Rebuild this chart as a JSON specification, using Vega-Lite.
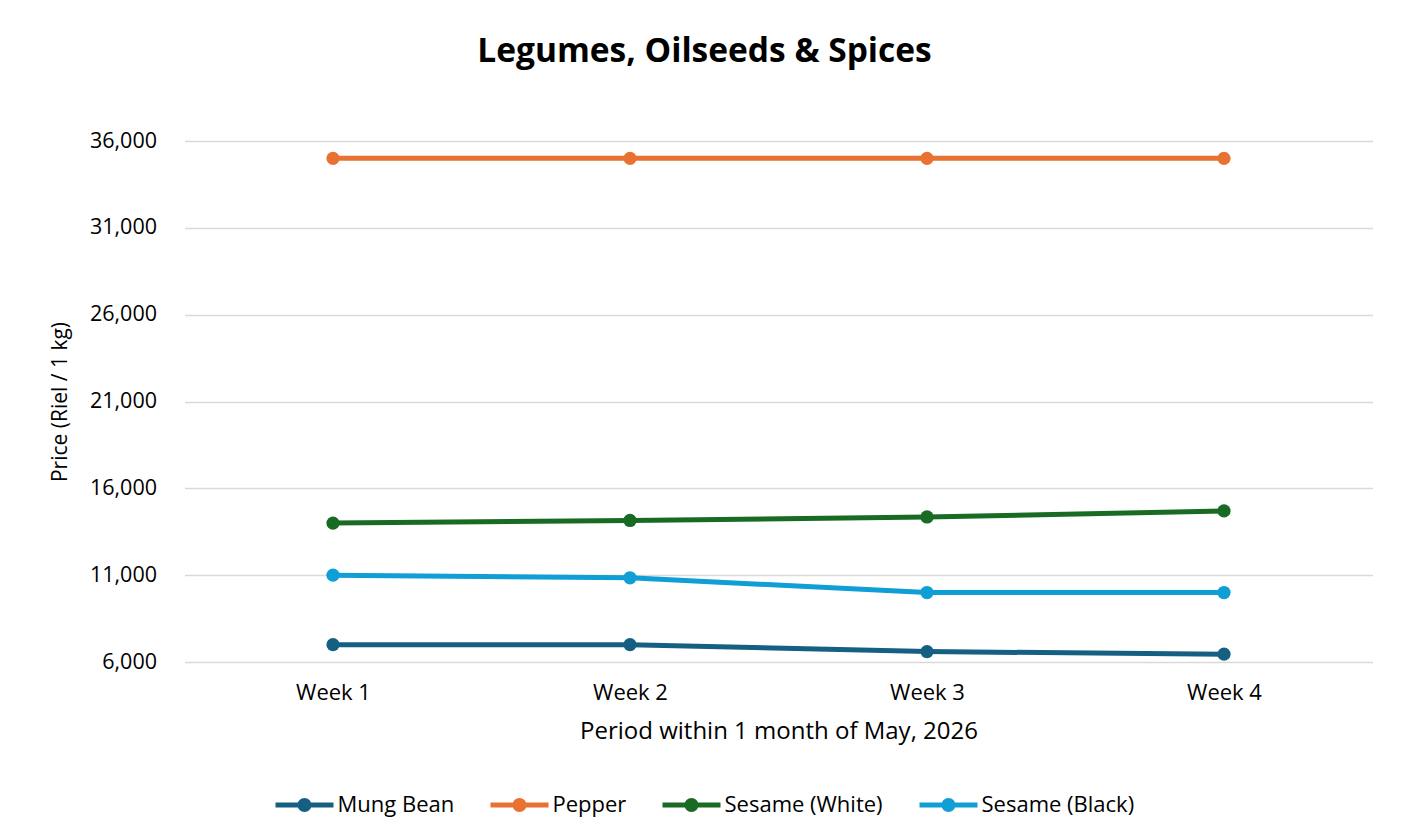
{
  "$schema": "https://vega.github.io/schema/vega-lite/v6.json",
  "width": 1188,
  "height": 521,
  "autosize": {"type": "none"},
  "padding": {"left": 184.5, "top": 141, "right": 29.5, "bottom": 176},
  "background": "white",
  "title": {
    "text": "Legumes, Oilseeds & Spices",
    "fontSize": 33.5,
    "fontWeight": "bold",
    "font": "Open Sans",
    "color": "#000000",
    "anchor": "middle",
    "dx": -74,
    "offset": 61
  },
  "data": {
    "values": [
      {"week": "Week 1", "item": "Mung Bean", "price": 7000},
      {"week": "Week 2", "item": "Mung Bean", "price": 7000},
      {"week": "Week 3", "item": "Mung Bean", "price": 6600},
      {"week": "Week 4", "item": "Mung Bean", "price": 6450},
      {"week": "Week 1", "item": "Pepper", "price": 35000},
      {"week": "Week 2", "item": "Pepper", "price": 35000},
      {"week": "Week 3", "item": "Pepper", "price": 35000},
      {"week": "Week 4", "item": "Pepper", "price": 35000},
      {"week": "Week 1", "item": "Sesame (White)", "price": 14000},
      {"week": "Week 2", "item": "Sesame (White)", "price": 14150},
      {"week": "Week 3", "item": "Sesame (White)", "price": 14350},
      {"week": "Week 4", "item": "Sesame (White)", "price": 14700},
      {"week": "Week 1", "item": "Sesame (Black)", "price": 11000},
      {"week": "Week 2", "item": "Sesame (Black)", "price": 10850},
      {"week": "Week 3", "item": "Sesame (Black)", "price": 10000},
      {"week": "Week 4", "item": "Sesame (Black)", "price": 10000}
    ]
  },
  "encoding": {
    "x": {
      "field": "week",
      "type": "ordinal",
      "scale": {"type": "point", "padding": 0.5},
      "axis": {
        "title": "Period within 1 month of May, 2026",
        "labelAngle": 0,
        "labelFontSize": 22,
        "labelPadding": 20,
        "titleFontSize": 24,
        "titleFontWeight": "normal",
        "titlePadding": 16,
        "ticks": false,
        "domain": false,
        "grid": false
      }
    },
    "y": {
      "field": "price",
      "type": "quantitative",
      "scale": {"domain": [6000, 36000], "nice": false, "zero": false},
      "axis": {
        "title": "Price (Riel / 1 kg)",
        "values": [6000, 11000, 16000, 21000, 26000, 31000, 36000],
        "format": ",d",
        "labelFontSize": 21.5,
        "labelPadding": 28,
        "titleFontSize": 21,
        "titleFontWeight": "normal",
        "titlePadding": 19,
        "ticks": false,
        "domain": false,
        "grid": true,
        "gridColor": "#d9d9d9",
        "gridWidth": 1.5
      }
    },
    "color": {
      "field": "item",
      "type": "nominal",
      "scale": {
        "domain": ["Mung Bean", "Pepper", "Sesame (White)", "Sesame (Black)"],
        "range": ["#156082", "#E97132", "#196B24", "#0F9ED5"]
      },
      "legend": {
        "title": null,
        "orient": "none",
        "direction": "horizontal",
        "legendX": 91,
        "legendY": 635,
        "labelFontSize": 22,
        "symbolType": "M -1 -0.086 L 1 -0.086 L 1 0.086 L -1 0.086 Z M -0.24 0 A 0.24 0.24 0 1 1 0.24 0 A 0.24 0.24 0 1 1 -0.24 0 Z",
        "symbolSize": 3364,
        "symbolStrokeWidth": 0,
        "columnPadding": 36,
        "labelOffset": 4
      }
    }
  },
  "layer": [
    {"mark": {"type": "line", "strokeWidth": 5}},
    {"mark": {"type": "point", "filled": true, "size": 175, "opacity": 1}}
  ],
  "config": {
    "font": "Open Sans",
    "view": {"stroke": null},
    "axis": {"labelColor": "#000000", "titleColor": "#000000"},
    "legend": {"labelColor": "#000000"}
  }
}
